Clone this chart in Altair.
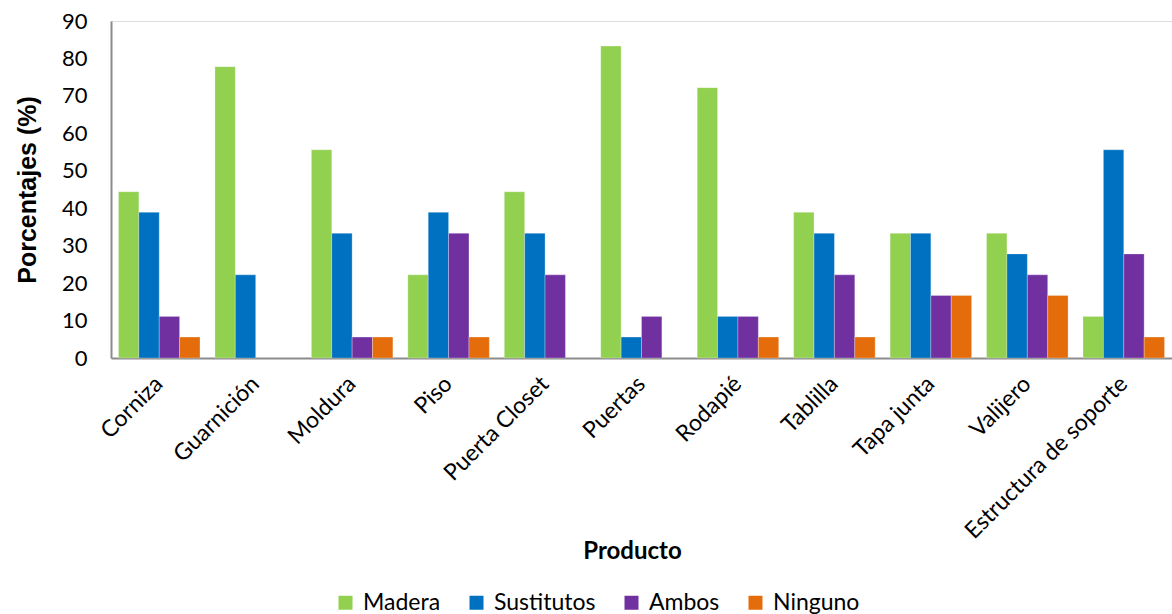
import altair as alt
import pandas as pd

productos = ["Corniza", "Guarnición", "Moldura", "Piso", "Puerta Closet", "Puertas",
             "Rodapié", "Tablilla", "Tapa junta", "Valijero", "Estructura de soporte"]
series = ["Madera", "Sustitutos", "Ambos", "Ninguno"]
colores = ["#92D050", "#0070C0", "#7030A0", "#E46C0A"]

madera = [44.4, 77.8, 55.6, 22.2, 44.4, 83.3, 72.2, 38.9, 33.3, 33.3, 11.1]
sustitutos = [38.9, 22.2, 33.3, 38.9, 33.3, 5.6, 11.1, 33.3, 33.3, 27.8, 55.6]
ambos = [11.1, 0.0, 5.6, 33.3, 22.2, 11.1, 11.1, 22.2, 16.7, 22.2, 27.8]
ninguno = [5.6, 0.0, 5.6, 5.6, 0.0, 0.0, 5.6, 5.6, 16.7, 16.7, 5.6]

valores = {"Madera": madera, "Sustitutos": sustitutos, "Ambos": ambos, "Ninguno": ninguno}
rows = []
for s in series:
    for p, v in zip(productos, valores[s]):
        rows.append({"Producto": p, "Serie": s, "Valor": v})
df = pd.DataFrame(rows)

FONT = "Lato"
TITLE_FONT = "Liberation Sans"
AXIS_COLOR = "#8C8C8C"

chart = alt.Chart(df).mark_bar(stroke="white", strokeOpacity=0.35, strokeWidth=0.8).encode(
    x=alt.X("Producto:N", sort=productos,
            scale=alt.Scale(domain=productos, paddingInner=0.155, paddingOuter=0.0775),
            axis=alt.Axis(title="Producto", labelAngle=-45, labelAlign="right",
                          labelBaseline="middle", labelPadding=22, ticks=False, tickSize=0,
                          labelFontSize=23, labelFont=FONT, labelColor="#000000",
                          labelLimit=400,
                          titleFont=FONT, titleFontSize=24, titleFontWeight="bold",
                          titleColor="#000000", titleX=521, titleY=200,
                          titleAlign="center", titleBaseline="alphabetic",
                          domainColor=AXIS_COLOR, domainWidth=2, labelOverlap=False)),
    xOffset=alt.XOffset("Serie:N", sort=series,
                        scale=alt.Scale(domain=series, paddingInner=0, paddingOuter=0)),
    y=alt.Y("Valor:Q", scale=alt.Scale(domain=[0, 90], nice=False),
            axis=alt.Axis(title="Porcentajes (%)", values=list(range(0, 91, 10)),
                          ticks=False, tickSize=0, grid=False, labelPadding=24,
                          labelFontSize=22, labelFont=FONT, labelColor="#000000",
                          titleFont=TITLE_FONT, titleFontSize=25, titleFontWeight="bold",
                          titleColor="#000000", titlePadding=21,
                          domainColor=AXIS_COLOR, domainWidth=2)),
    color=alt.Color("Serie:N", sort=series,
                    scale=alt.Scale(domain=series, range=colores),
                    legend=alt.Legend(title=None, orient="none", direction="horizontal",
                                      legendX=223, legendY=570, symbolType="square",
                                      symbolSize=196, symbolStrokeWidth=0, symbolOpacity=1,
                                      labelFont=FONT, labelFontSize=23, labelColor="#000000",
                                      labelOffset=6, columnPadding=24)),
).transform_filter(
    "datum.Valor > 0"
).properties(
    width=1061, height=337,
    autosize=alt.AutoSizeParams(type="none"),
    padding={"left": 111, "top": 21, "right": 0, "bottom": 256},
).configure_view(stroke=None).configure(background="white")

chart.save("out.html", embed_options={"renderer": "svg", "actions": False})
